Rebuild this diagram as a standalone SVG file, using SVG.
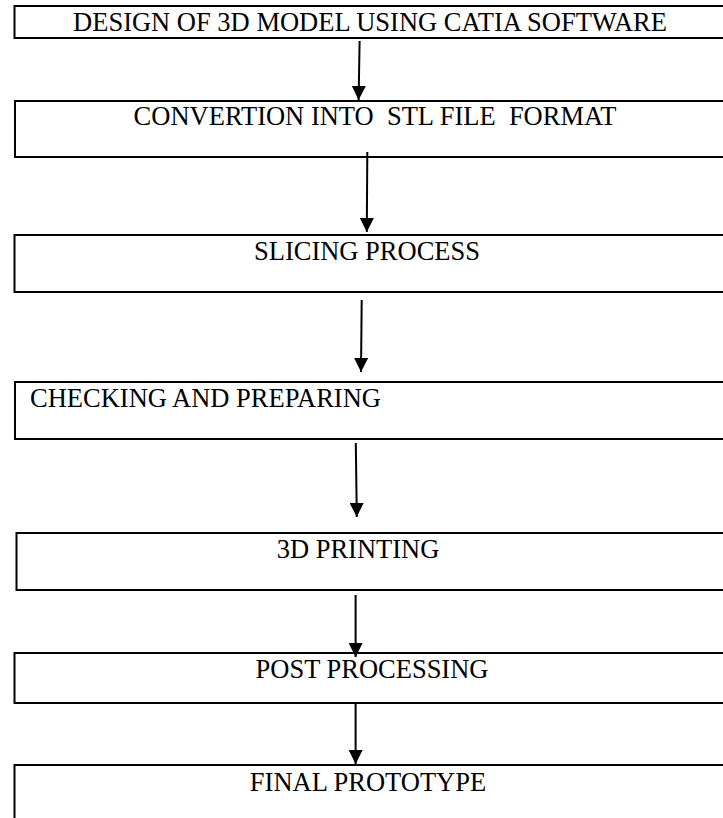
<svg xmlns="http://www.w3.org/2000/svg" width="723" height="818" viewBox="0 0 723 818">
<style>
.box{fill:none;stroke:#000;stroke-width:2}
.lbl{font-family:"Liberation Serif","Times New Roman",serif;font-size:26.5px;fill:#000}
.c{text-anchor:middle}
.arr{stroke:#000;stroke-width:2;fill:none;marker-end:url(#ah)}
</style>
<defs>
<marker id="ah" viewBox="0 0 14 14" markerWidth="14" markerHeight="14" markerUnits="userSpaceOnUse" refX="14" refY="7" orient="auto">
<path d="M0,0 L14,7 L0,14 z" fill="#000"/>
</marker>
</defs>
<rect width="723" height="818" fill="#fff"/>
<g id="n1">
<rect class="box" x="14.5" y="6" width="760" height="32"/>
<text class="lbl c" x="370" y="31">DESIGN OF 3D MODEL USING CATIA SOFTWARE</text>
</g>
<g id="n2">
<rect class="box" x="15" y="101" width="760" height="56"/>
<text class="lbl c" x="375" y="125" xml:space="preserve">CONVERTION INTO  STL FILE  FORMAT</text>
</g>
<g id="n3">
<rect class="box" x="14.5" y="235" width="760" height="57"/>
<text class="lbl c" x="367" y="260">SLICING PROCESS</text>
</g>
<g id="n4">
<rect class="box" x="15" y="382" width="760" height="57"/>
<text class="lbl" x="30" y="407">CHECKING AND PREPARING</text>
</g>
<g id="n5">
<rect class="box" x="16.5" y="533" width="760" height="57"/>
<text class="lbl c" x="358" y="558">3D PRINTING</text>
</g>
<g id="n6">
<rect class="box" x="14.5" y="653" width="760" height="50"/>
<text class="lbl c" x="372" y="678">POST PROCESSING</text>
</g>
<g id="n7">
<rect class="box" x="14.5" y="765" width="760" height="80"/>
<text class="lbl c" x="368" y="791">FINAL PROTOTYPE</text>
</g>
<g id="connectors">
<line class="arr" x1="359.6" y1="41" x2="358.6" y2="100"/>
<line class="arr" x1="367.3" y1="152" x2="366.8" y2="232"/>
<line class="arr" x1="361.7" y1="300" x2="361" y2="372"/>
<line class="arr" x1="355.8" y1="443" x2="356.8" y2="517"/>
<line class="arr" x1="355.6" y1="595" x2="355.6" y2="657"/>
<line class="arr" x1="355.6" y1="703" x2="355.6" y2="764"/>
</g>
</svg>
